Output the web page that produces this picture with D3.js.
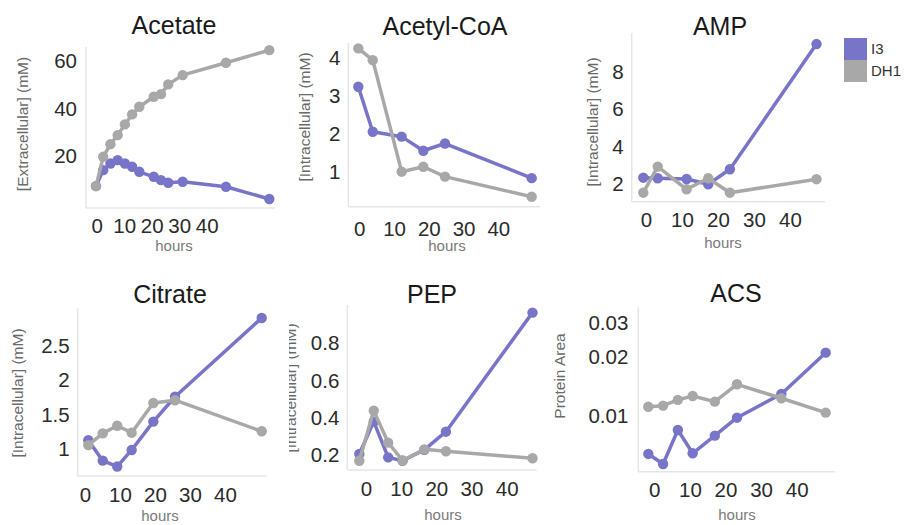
<!DOCTYPE html>
<html>
<head>
<meta charset="utf-8">
<script src="https://cdn.jsdelivr.net/npm/d3@7"></script>
<style>
  body { margin: 0; background: #fff; }
  svg { display: block; font-family: "Liberation Sans", Arial, sans-serif; }
</style>
</head>
<body>
<div class="container"></div>
<script>
// values
const seriesNames = ['I3', 'DH1'];
const xTickValues = [0, 10, 20, 30, 40];

const acetateHours = [0, 2, 4, 6, 8, 10, 12, 16, 18, 20, 24, 36, 48];
const acetateI3 = [7.4, 14.1, 16.9, 18.3, 16.9, 15.5, 13.4, 11.3, 9.9, 8.8, 9.2, 7.1, 2.0];
const acetateDH1 = [7.4, 19.7, 25, 28.8, 33.3, 37.5, 40.7, 44.9, 46, 50.1, 54, 59.2, 64.5];
const acetateTicks = [20, 40, 60];

const acetylCoAHours = [0, 4, 12, 18, 24, 48];
const acetylCoAI3 = [3.23, 2.05, 1.92, 1.55, 1.74, 0.83];
const acetylCoADH1 = [4.24, 3.93, 1.0, 1.13, 0.87, 0.34];
const acetylCoATicks = [1, 2, 3, 4];

const ampHours = [0, 4, 12, 18, 24, 48];
const ampI3 = [2.35, 2.32, 2.28, 2.0, 2.8, 9.47];
const ampDH1 = [1.55, 2.94, 1.73, 2.32, 1.55, 2.27];
const ampTicks = [2, 4, 6, 8];

const citrateHours = [0, 4, 8, 12, 18, 24, 48];
const citrateI3 = [1.13, 0.835, 0.75, 0.99, 1.40, 1.76, 2.90];
const citrateDH1 = [1.06, 1.23, 1.34, 1.24, 1.67, 1.71, 1.26];
const citrateTicks = [1, 1.5, 2, 2.5];

const pepHours = [0, 4, 8, 12, 18, 24, 48];
const pepI3 = [0.205, 0.379, 0.187, 0.169, 0.227, 0.325, 0.965];
const pepDH1 = [0.169, 0.438, 0.266, 0.17, 0.23, 0.22, 0.182];
const pepTicks = [0.2, 0.4, 0.6, 0.8];

const acsHours = [0, 4, 8, 12, 18, 24, 36, 48];
const acsI3 = [0.00638, 0.00566, 0.00847, 0.00643, 0.00792, 0.0098, 0.01297, 0.02116];
const acsDH1 = [0.01116, 0.0113, 0.0121, 0.01267, 0.01185, 0.01455, 0.01233, 0.0104];
const acsTicks = [0.01, 0.02, 0.03];

const colors = { I3: '#7875c9', DH1: '#a8a8a8' };

// panel layout (pixels)
const panels = [
  { title: 'Acetate', ylabel: '[Extracellular] (mM)', hours: acetateHours, i3: acetateI3, dh1: acetateDH1, ticks: acetateTicks,
    left: 86, right: 275, top: 47, bottom: 208, yDomain: [-1.8, 65.8], x0: 96, x48: 269.3, t0: 96.7, t40: 206.7,
    titleX: 174, titleY: 34, ylx: 23, yly: 124, hx: 174, hy: 251, tickPad: 9, xPad: 10 },
  { title: 'Acetyl-CoA', ylabel: '[Intracellular] (mM)', hours: acetylCoAHours, i3: acetylCoAI3, dh1: acetylCoADH1, ticks: acetylCoATicks,
    left: 348.3, right: 540, top: 43, bottom: 206.7, yDomain: [0.08, 4.38], x0: 358.3, x48: 531.7, t0: 359.3, t40: 498.3,
    titleX: 445, titleY: 35, ylx: 305, yly: 117, hx: 447, hy: 251, tickPad: 8, xPad: 15 },
  { title: 'AMP', ylabel: '[Intracellular] (mM)', hours: ampHours, i3: ampI3, dh1: ampDH1, ticks: ampTicks,
    left: 631.7, right: 825, top: 33, bottom: 201.7, yDomain: [1.07, 10.06], x0: 643.3, x48: 816.5, t0: 646, t40: 790,
    titleX: 720, titleY: 35, ylx: 593, yly: 122, hx: 723, hy: 248, tickPad: 8 },
  { title: 'Citrate', ylabel: '[Intracellular] (mM)', hours: citrateHours, i3: citrateI3, dh1: citrateDH1, ticks: citrateTicks,
    left: 77.7, right: 266.7, top: 308.3, bottom: 476, yDomain: [0.613, 3.04], x0: 88.3, x48: 261.7, t0: 85, t40: 225,
    titleX: 170, titleY: 303, ylx: 18, yly: 393, hx: 160, hy: 521, tickPad: 8 },
  { title: 'PEP', ylabel: '[Intracellular] (mM)', hours: pepHours, i3: pepI3, dh1: pepDH1, ticks: pepTicks,
    left: 347.3, right: 536.7, top: 305, bottom: 470, yDomain: [0.119, 1.006], x0: 359.3, x48: 532.5, t0: 366, t40: 506.7,
    titleX: 432, titleY: 303, ylx: 290.5, yly: 388, hx: 443, hy: 520, tickPad: 8, clipLeft: 289 },
  { title: 'ACS', ylabel: 'Protein Area', hours: acsHours, i3: acsI3, dh1: acsDH1, ticks: acsTicks, log: true,
    left: 638.3, right: 835, top: 307.3, bottom: 471.7, yDomain: [0.00517, 0.0362], x0: 648.3, x48: 825.7, t0: 654.3, t40: 796.7,
    titleX: 736, titleY: 302, ylx: 560, yly: 376, hx: 737, hy: 520, tickPad: 10 }
];

const w = 909, h = 525;

const svg = d3.select('.container')
  .append('svg')
  .attr('width', w)
  .attr('height', h);

svg.append('defs').append('clipPath')
  .attr('id', 'clip-pep')
  .append('rect')
  .attr('x', 289).attr('y', 250).attr('width', 300).attr('height', 275);

panels.forEach((p) => {
  const g = svg.append('g');
  if (p.clipLeft) g.attr('clip-path', 'url(#clip-pep)');

  const x = d3.scaleLinear().domain([0, 48]).range([p.x0, p.x48]);
  const xt = d3.scaleLinear().domain([0, 40]).range([p.t0, p.t40]);
  const y = (p.log ? d3.scaleLog() : d3.scaleLinear())
    .domain(p.yDomain)
    .range([p.bottom, p.top]);

  // light frame lines
  g.append('line')
    .attr('x1', p.left).attr('x2', p.left)
    .attr('y1', p.top).attr('y2', p.bottom)
    .attr('stroke', '#e6e6e6').attr('stroke-width', 1.5);
  g.append('line')
    .attr('x1', p.left).attr('x2', p.right)
    .attr('y1', p.bottom).attr('y2', p.bottom)
    .attr('stroke', '#e6e6e6').attr('stroke-width', 1.5);

  const yAxis = d3.axisLeft(y)
    .tickValues(p.ticks)
    .tickSize(0)
    .tickPadding(p.tickPad)
    .tickFormat(d => String(d));

  g.append('g')
    .attr('transform', `translate(${p.left},0)`)
    .call(yAxis)
    .call(a => a.select('.domain').remove())
    .selectAll('text')
    .attr('font-size', 20.5)
    .attr('fill', '#2b2b2b')
    .attr('font-family', null);

  const xAxis = d3.axisBottom(xt)
    .tickValues(xTickValues)
    .tickSize(0)
    .tickPadding(p.xPad || 11);

  g.append('g')
    .attr('transform', `translate(0,${p.bottom})`)
    .call(xAxis)
    .call(a => a.select('.domain').remove())
    .selectAll('text')
    .attr('font-size', 20.5)
    .attr('fill', '#2b2b2b')
    .attr('font-family', null);

  g.append('text')
    .attr('x', p.titleX).attr('y', p.titleY)
    .attr('text-anchor', 'middle')
    .attr('font-size', 25)
    .attr('fill', '#1a1a1a')
    .text(p.title);

  g.append('text')
    .attr('x', p.hx).attr('y', p.hy)
    .attr('text-anchor', 'middle')
    .attr('font-size', 15)
    .attr('fill', '#7a7a7a')
    .text('hours');

  g.append('text')
    .attr('transform', `translate(${p.ylx},${p.yly}) rotate(-90)`)
    .attr('text-anchor', 'middle')
    .attr('dy', '0.35em')
    .attr('font-size', 15.5)
    .attr('fill', '#6a6a6a')
    .text(p.ylabel);

  const line = d3.line()
    .x(d => x(d[0]))
    .y(d => y(d[1]));

  [['I3', p.i3], ['DH1', p.dh1]].forEach(([name, vals]) => {
    const pts = p.hours.map((t, i) => [t, vals[i]]);
    g.append('path')
      .datum(pts)
      .attr('fill', 'none')
      .attr('stroke', colors[name])
      .attr('stroke-width', 3.5)
      .attr('stroke-linejoin', 'round')
      .attr('d', line);
    g.selectAll(`.dot-${name}`)
      .data(pts)
      .enter()
      .append('circle')
      .attr('class', `dot-${name}`)
      .attr('cx', d => x(d[0]))
      .attr('cy', d => y(d[1]))
      .attr('r', 5.2)
      .attr('fill', colors[name]);
  });
});

// legend
const legend = svg.append('g').attr('transform', 'translate(844,38)');
legend.selectAll('rect')
  .data(seriesNames)
  .enter()
  .append('rect')
  .attr('x', 0)
  .attr('y', (d, i) => i * 22)
  .attr('width', 23)
  .attr('height', 22)
  .attr('fill', d => colors[d]);
legend.selectAll('text')
  .data(seriesNames)
  .enter()
  .append('text')
  .attr('x', 27)
  .attr('y', (d, i) => i * 22 + 11)
  .attr('dy', '0.35em')
  .attr('font-size', 15)
  .attr('fill', '#333')
  .text(d => d);
</script>
</body>
</html>
